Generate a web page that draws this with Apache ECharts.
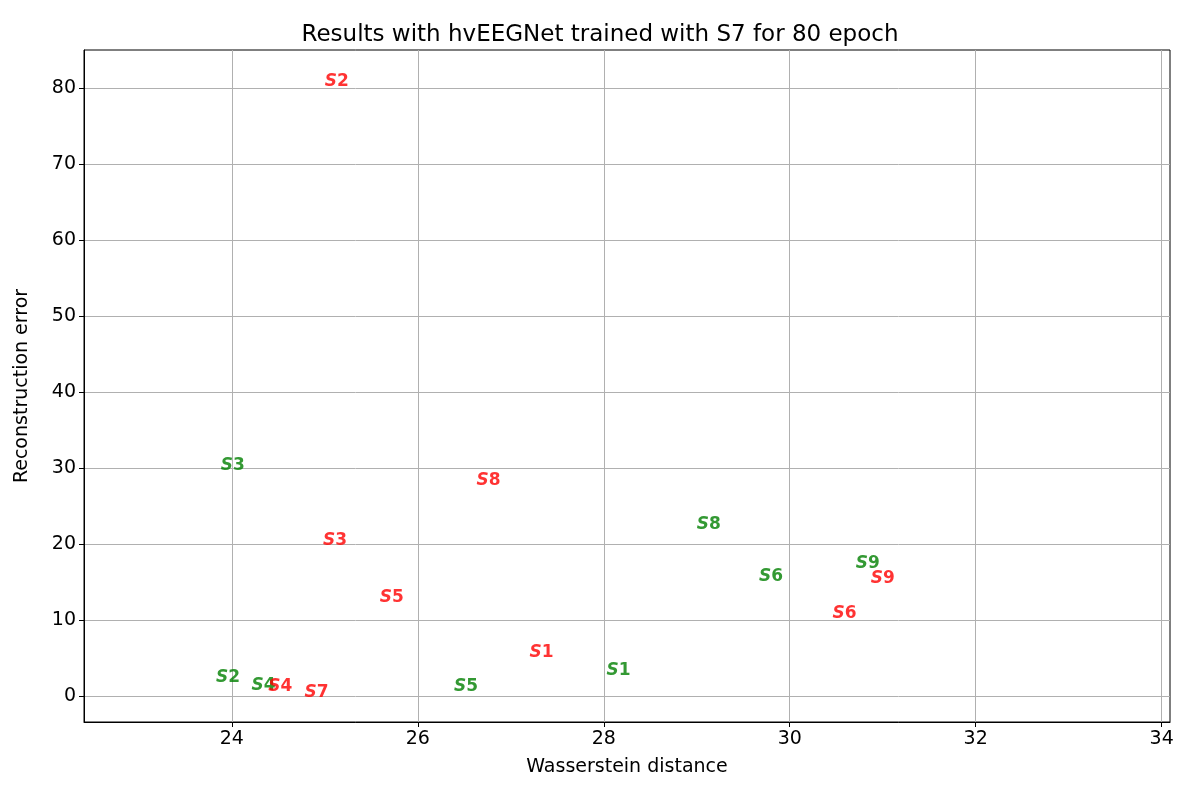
<!DOCTYPE html>
<html><head><meta charset="utf-8">
<script src="https://cdn.jsdelivr.net/npm/echarts@6/dist/echarts.min.js"></script>
<style>html,body{margin:0;padding:0;background:#fff}#c{width:1200px;height:800px}</style>
</head><body><div id="c"></div>
<script>
const redLabels = ['2','8','3','5','1','6','9','4','7'];
const redX = [25.13,26.76,25.11,25.72,27.33,30.59,31.0,24.52,24.91];
const redY = [80.9,28.4,20.5,13.0,5.7,10.9,15.4,1.3,0.4];
const greenLabels = ['3','8','6','9','1','5','2','4'];
const greenX = [24.01,29.13,29.80,30.84,28.16,26.52,23.96,24.34];
const greenY = [30.3,22.5,15.7,17.4,3.3,1.2,2.4,1.4];
const xTicks = [24,26,28,30,32,34];
const yTicks = [0,10,20,30,40,50,60,70,80];

function mk(labels, xs, ys, color){
  return {
    type:'scatter', symbolSize:1, itemStyle:{color:'rgba(0,0,0,0)'},
    data: xs.map((x,i)=>({value:[x,ys[i]], name:labels[i]})),
    label:{show:true, position:'inside', color:color, fontFamily:'DejaVu Sans', fontWeight:'bold', fontSize:17,
      formatter:p=>'{i|S}{n|'+p.name+'}',
      rich:{i:{fontStyle:'italic',fontWeight:'bold',color:color,fontSize:17,fontFamily:'DejaVu Sans'},
            n:{fontWeight:'bold',color:color,fontSize:17,fontFamily:'DejaVu Sans'}}},
    labelLayout:{hideOverlap:false}
  };
}
const axisCommon = {
  axisLine:{show:true,onZero:false,lineStyle:{color:'#000'}},
  axisTick:{show:true,length:5,inside:false,lineStyle:{color:'#000'}},
  axisLabel:{color:'#000',fontSize:19,fontFamily:'DejaVu Sans'},
  splitLine:{show:true,lineStyle:{color:'#b0b0b0',width:1}},
  nameLocation:'middle', nameTextStyle:{color:'#000',fontSize:19,fontFamily:'DejaVu Sans'}
};
const chart = echarts.init(document.getElementById('c'));
chart.setOption({
  animation:false,
  title:{text:'Results with hvEEGNet trained with S7 for 80 epoch',left:'center',top:19,
    textStyle:{fontSize:23,fontWeight:'normal',color:'#000',fontFamily:'DejaVu Sans'}},
  grid:{left:84,right:30,top:50,bottom:78,show:true,borderColor:'#000',borderWidth:1},
  xAxis:Object.assign({},axisCommon,{type:'value',min:22.41,max:34.09,name:'Wasserstein distance',nameGap:36,
    axisLabel:Object.assign({},axisCommon.axisLabel,{customValues:xTicks}),
    axisTick:Object.assign({},axisCommon.axisTick,{customValues:xTicks})}),
  yAxis:Object.assign({},axisCommon,{type:'value',min:-3.42,max:85,name:'Reconstruction error',nameGap:52,
    axisLabel:Object.assign({},axisCommon.axisLabel,{customValues:yTicks}),
    axisTick:Object.assign({},axisCommon.axisTick,{customValues:yTicks})}),
  series:[mk(greenLabels,greenX,greenY,'green'),mk(redLabels,redX,redY,'red')]
});
</script></body></html>
